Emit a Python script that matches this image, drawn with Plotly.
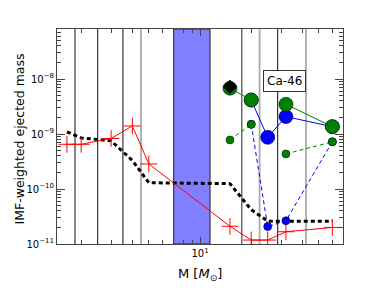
import plotly.graph_objects as go
import numpy as np

# ---------------- data ----------------
masses_all = [1.65, 2, 3, 4, 5, 15, 20, 25, 32, 60]
red_vals = [6.5e-10, 6.5e-10, 8.3e-10, 1.4e-9, 2.85e-10, 2.1e-11, 1.18e-11, 1.18e-11, 1.67e-11, 2.0e-11]
black_vals = [1.09e-9, 8.5e-10, 7.5e-10, 3.3e-10, 1.3e-10, 1.25e-10, 4.2e-11, 2.6e-11, 2.6e-11, 2.6e-11]

masses_massive = [15, 20, 25, 32, 60]
green_big = [6.8e-9, 4.15e-9, None, 3.47e-9, 1.36e-9]
blue_big = [None, 4.15e-9, 8.7e-10, 2.07e-9, 1.36e-9]
green_small = [7.8e-10, 1.5e-9, None, 4.35e-10, 7.2e-10]
blue_small = [None, 1.5e-9, 2.07e-11, 2.65e-11, 7.2e-10]

diamond_mass = [15]
diamond_val = [7.2e-9]

band_range = [7, 11.45]
vline_dark = [1.84, 2.5, 3.52, 28.6]
vline_mid = [17.6]
vline_light = [4.5, 22.4, 42]

x_tick_vals = [10]
x_tick_text = ["10<sup>1</sup>"]
y_tick_vals = [1e-11, 1e-10, 1e-9, 1e-8]
y_tick_text = ["10<sup>−11</sup>", "10<sup>−10</sup>", "10<sup>−9</sup>", "10<sup>−8</sup>"]
label_text = "Ca-46"
x_title = "M [<i>M</i><sub>⊙</sub>]"
y_title = "IMF-weighted ejected mass"

# ---------------- figure ----------------
fig = go.Figure()

fig.add_trace(go.Scatter(x=masses_all, y=black_vals, mode="lines",
                         line=dict(color="black", width=3, dash="4px,3px"),
                         showlegend=False))
fig.add_trace(go.Scatter(x=masses_all, y=red_vals, mode="lines+markers",
                         line=dict(color="red", width=1),
                         marker=dict(symbol="cross-thin", size=12,
                                     line=dict(color="red", width=1)),
                         showlegend=False))
fig.add_trace(go.Scatter(x=masses_massive, y=blue_small, mode="lines+markers",
                         line=dict(color="blue", width=1, dash="4px,3px"),
                         marker=dict(color="blue", size=8,
                                     line=dict(color="#000033", width=0.6)),
                         connectgaps=False, showlegend=False))
fig.add_trace(go.Scatter(x=masses_massive, y=green_small, mode="lines+markers",
                         line=dict(color="green", width=1, dash="4px,3px"),
                         marker=dict(color="green", size=8,
                                     line=dict(color="#002200", width=0.6)),
                         connectgaps=False, showlegend=False))
fig.add_trace(go.Scatter(x=masses_massive, y=blue_big, mode="lines+markers",
                         line=dict(color="blue", width=1),
                         marker=dict(color="blue", size=14,
                                     line=dict(color="#000033", width=0.6)),
                         connectgaps=False, showlegend=False))
fig.add_trace(go.Scatter(x=masses_massive, y=green_big, mode="lines+markers",
                         line=dict(color="green", width=1),
                         marker=dict(color="green", size=14,
                                     line=dict(color="#002200", width=0.6)),
                         connectgaps=False, showlegend=False))
fig.add_trace(go.Scatter(x=diamond_mass, y=diamond_val, mode="markers",
                         marker=dict(symbol="diamond", color="black", size=11),
                         showlegend=False))

# band and vertical lines
fig.add_shape(type="rect", xref="x", yref="paper",
              x0=band_range[0], x1=band_range[1], y0=0, y1=1,
              fillcolor="rgba(0,0,255,0.5)", line=dict(color="#222", width=1),
              layer="below")
for m in vline_dark:
    fig.add_shape(type="line", xref="x", yref="paper", x0=m, x1=m, y0=0, y1=1,
                  line=dict(color="#333", width=1.2), layer="below")
for m in vline_mid:
    fig.add_shape(type="line", xref="x", yref="paper", x0=m, x1=m, y0=0, y1=1,
                  line=dict(color="#555", width=1.3), layer="below")
for m in vline_light:
    fig.add_shape(type="line", xref="x", yref="paper", x0=m, x1=m, y0=0, y1=1,
                  line=dict(color="#aaa", width=1.8), layer="below")

fig.add_annotation(text=label_text, xref="paper", yref="paper",
                   x=0.797, y=0.760, xanchor="center", yanchor="middle",
                   showarrow=False,
                   font=dict(family="DejaVu Sans", size=12, color="black"),
                   bgcolor="white", bordercolor="#333", borderwidth=1, borderpad=3)

fig.add_annotation(text=y_title, xref="paper", yref="paper",
                   x=-0.130, y=0.49, xanchor="center", yanchor="middle",
                   textangle=-90, showarrow=False,
                   font=dict(family="DejaVu Sans", size=12.5, color="black"))
fig.add_annotation(text=x_title, xref="paper", yref="paper",
                   x=0.5, y=-0.095, xanchor="center", yanchor="top",
                   showarrow=False,
                   font=dict(family="DejaVu Sans", size=13, color="black"))

x_minor = [k * 10 ** e for e in range(0, 2) for k in range(2, 10)]
y_minor = [k * 10.0 ** e for e in range(-11, -7) for k in range(2, 10)]

fig.update_xaxes(type="log", range=[np.log10(1.442), np.log10(69.3)],
                 automargin=False,
                 tickmode="array", tickvals=x_tick_vals, ticktext=x_tick_text,
                 ticks="inside", ticklen=7, tickcolor="#444", tickwidth=1,
                 minor=dict(tickmode="array", tickvals=x_minor, ticks="inside",
                            ticklen=4, tickcolor="#444", tickwidth=1),
                 showline=True, linecolor="#444", linewidth=1, mirror="ticks",
                 showgrid=False, zeroline=False,
                 tickfont=dict(family="DejaVu Sans", size=10, color="black"))
fig.update_yaxes(type="log", range=[-11, -7.091],
                 automargin=False,
                 tickmode="array", tickvals=y_tick_vals, ticktext=y_tick_text,
                 ticks="inside", ticklen=8, tickcolor="#444", tickwidth=1,
                 minor=dict(tickmode="array", tickvals=y_minor, ticks="inside",
                            ticklen=4, tickcolor="#444", tickwidth=1),
                 showline=True, linecolor="#444", linewidth=1, mirror="ticks",
                 showgrid=False, zeroline=False,
                 tickfont=dict(family="DejaVu Sans", size=10, color="black"))

fig.update_layout(width=382, height=288,
                  margin=dict(l=49, r=47, t=21, b=52),
                  paper_bgcolor="white", plot_bgcolor="white",
                  showlegend=False)

fig.write_html("out.html")
